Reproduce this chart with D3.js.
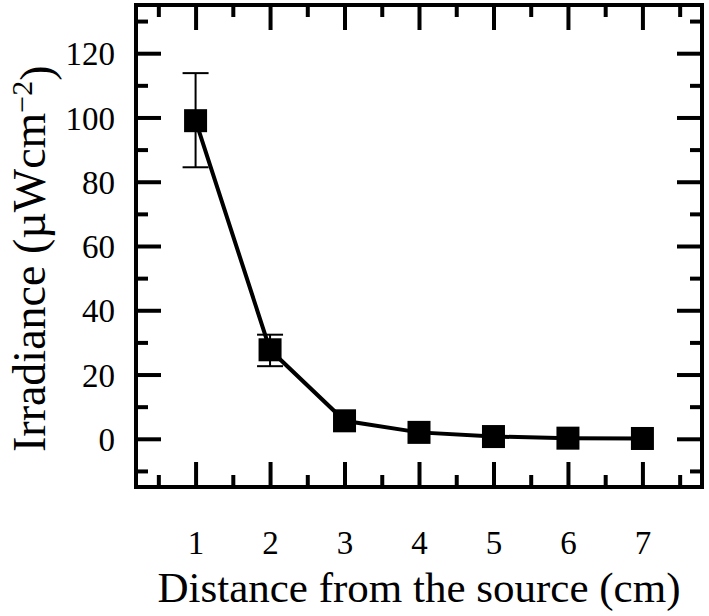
<!DOCTYPE html>
<meta charset="utf-8">
<head>
<script src="https://cdn.jsdelivr.net/npm/d3@7"></script>
<style>
body { margin: 0; background: #fff; }
text { font-family: "Liberation Serif", "Times New Roman", serif; fill: #000; }
.tick line { stroke: #000; stroke-width: 4; }
</style>
</head>
<body>
<script>

// data
var distance = [1, 2, 3, 4, 5, 6, 7];
var irradiance = [99, 27.7, 5.6, 2.0, 0.7, 0.2, 0.1];
var errLow = [84.5, 22.6, 5.6, 2.0, 0.7, 0.2, 0.1];
var errHigh = [113.8, 32.4, 5.6, 2.0, 0.7, 0.2, 0.1];

var xMajor = [1, 2, 3, 4, 5, 6, 7];
var xMinor = [0.5, 1.5, 2.5, 3.5, 4.5, 5.5, 6.5, 7.5];
var yMajor = [0, 20, 40, 60, 80, 100, 120];
var yMinor = [-10, 10, 30, 50, 70, 90, 110, 130];

var width = 709, height = 616;
// plot frame (note: "top" is a reserved window property)
var pLeft = 136, pRight = 702, pTop = 5, pBottom = 487;

var svg = d3.select("body").append("svg")
    .attr("width", width)
    .attr("height", height);

var x = d3.scaleLinear().domain([0.2, 7.8]).range([pLeft, pRight]);
var y = d3.scaleLinear().domain([-15, 135]).range([pBottom, pTop]);

var big = 25, small = 12;

function addAxis(axis, tx, ty) {
  var g = svg.append("g")
      .attr("transform", "translate(" + tx + "," + ty + ")")
      .call(axis);
  g.select(".domain").remove();
  return g;
}

// bottom
var gb = addAxis(d3.axisBottom(x).tickValues(xMajor).tickSize(-big).tickPadding(big + 19), 0, pBottom);
gb.selectAll("text").style("font-size", "33px");
addAxis(d3.axisBottom(x).tickValues(xMinor).tickSize(-small).tickFormat(""), 0, pBottom);
// top
addAxis(d3.axisTop(x).tickValues(xMajor).tickSize(-big).tickFormat(""), 0, pTop);
addAxis(d3.axisTop(x).tickValues(xMinor).tickSize(-small).tickFormat(""), 0, pTop);
// left
var gl = addAxis(d3.axisLeft(y).tickValues(yMajor).tickSize(-big).tickPadding(21), pLeft, 0);
gl.selectAll("text").style("font-size", "33px").attr("dy", "0.35em");
addAxis(d3.axisLeft(y).tickValues(yMinor).tickSize(-small).tickFormat(""), pLeft, 0);
// right
addAxis(d3.axisRight(y).tickValues(yMajor).tickSize(-big).tickFormat(""), pRight, 0);
addAxis(d3.axisRight(y).tickValues(yMinor).tickSize(-small).tickFormat(""), pRight, 0);

// frame
svg.append("rect")
    .attr("x", pLeft).attr("y", pTop)
    .attr("width", pRight - pLeft).attr("height", pBottom - pTop)
    .attr("fill", "none").attr("stroke", "#000").attr("stroke-width", 4);

var pts = distance.map(function(d, i) {
  return {x: d, y: irradiance[i], lo: errLow[i], hi: errHigh[i]};
});

// error bars
var eb = svg.append("g").attr("stroke", "#000").attr("stroke-width", 2);
var capW = 13;
pts.forEach(function(p) {
  if (p.hi === p.lo) return;
  eb.append("line").attr("x1", x(p.x)).attr("x2", x(p.x)).attr("y1", y(p.lo)).attr("y2", y(p.hi));
  eb.append("line").attr("x1", x(p.x) - capW).attr("x2", x(p.x) + capW).attr("y1", y(p.lo)).attr("y2", y(p.lo));
  eb.append("line").attr("x1", x(p.x) - capW).attr("x2", x(p.x) + capW).attr("y1", y(p.hi)).attr("y2", y(p.hi));
});

// line
var line = d3.line().x(function(d) { return x(d.x); }).y(function(d) { return y(d.y); });
svg.append("path")
    .datum(pts)
    .attr("d", line)
    .attr("fill", "none")
    .attr("stroke", "#000")
    .attr("stroke-width", 4);

// squares
var sz = 23;
svg.selectAll("rect.pt").data(pts).enter().append("rect")
    .attr("class", "pt")
    .attr("x", function(d) { return x(d.x) - sz / 2; })
    .attr("y", function(d) { return y(d.y) - sz / 2; })
    .attr("width", sz).attr("height", sz)
    .attr("fill", "#000");

// labels
svg.append("text")
    .attr("x", (pLeft + pRight) / 2)
    .attr("y", 602)
    .attr("text-anchor", "middle")
    .style("font-size", "43px")
    .text("Distance from the source (cm)");

var yl = svg.append("text")
    .attr("transform", "translate(45,452) rotate(-90)")
    .attr("text-anchor", "start")
    .style("font-size", "46px");
yl.append("tspan").text("Irradiance (\u00b5Wcm");
yl.append("tspan").attr("dy", "-0.45em").style("font-size", "30px").text("\u22122");
yl.append("tspan").attr("dy", "0.45em").text(")");

</script>
</body>
